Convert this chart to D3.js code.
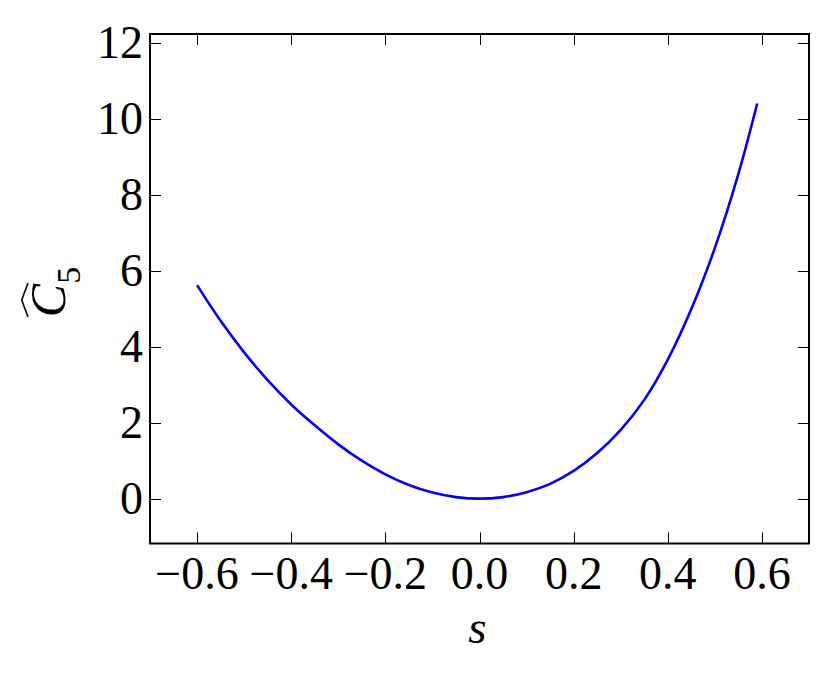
<!DOCTYPE html>
<html>
<head>
<meta charset="utf-8">
<script src="https://cdn.jsdelivr.net/npm/d3@7"></script>
<style>
  body { margin: 0; background: #fff; }
  svg { display: block; }
</style>
</head>
<body>
<div class="vis-chart"></div>
<script>
// values
const sValues = [-0.60, -0.55, -0.50, -0.45, -0.40, -0.35, -0.30, -0.25, -0.20, -0.15, -0.10, -0.05,
  0.00, 0.05, 0.10, 0.15, 0.20, 0.25, 0.30, 0.35, 0.40, 0.45, 0.50, 0.55, 0.59];
const c5Values = [5.62, 4.68, 3.85, 3.12, 2.48, 1.93, 1.43, 1.00, 0.64, 0.36, 0.16, 0.04,
  0.00, 0.04, 0.17, 0.39, 0.73, 1.20, 1.81, 2.60, 3.66, 4.99, 6.60, 8.55, 10.40];
const xTicks = [-0.6, -0.4, -0.2, 0.0, 0.2, 0.4, 0.6];
const yTicks = [0, 2, 4, 6, 8, 10, 12];

const width = 831;
const height = 678;
const margin = { top: 34, right: 22, bottom: 134.5, left: 150 };
const w = width - margin.left - margin.right;
const h = height - margin.top - margin.bottom;
const serif = "'Liberation Serif', 'Times New Roman', Times, serif";

const svg = d3.select(".vis-chart")
  .append("svg")
  .attr("width", width)
  .attr("height", height)
  .attr("font-family", serif);

const g = svg.append("g")
  .attr("transform", `translate(${margin.left},${margin.top})`);

const xScale = d3.scaleLinear().domain([-0.7, 0.7]).range([0, w]);
const yScale = d3.scaleLinear().domain([-1.18, 12.23]).range([h, 0]);

const fmtX = (d) => (d < 0 ? "\u2212" : "") + Math.abs(d).toFixed(1);
const tickLen = 11;
const fontSize = 46;

// ticks, drawn inward on all four sides
const tickG = g.append("g").attr("stroke", "#000").attr("stroke-width", 1);
xTicks.forEach((d) => {
  const x = Math.round(xScale(d)) + 0.5;
  tickG.append("line").attr("x1", x).attr("x2", x).attr("y1", h).attr("y2", h - tickLen);
  tickG.append("line").attr("x1", x).attr("x2", x).attr("y1", 0).attr("y2", tickLen);
});
yTicks.forEach((d) => {
  const y = Math.round(yScale(d)) + 0.5;
  tickG.append("line").attr("x1", 0).attr("x2", tickLen).attr("y1", y).attr("y2", y);
  tickG.append("line").attr("x1", w).attr("x2", w - tickLen).attr("y1", y).attr("y2", y);
});

// tick labels
g.append("g")
  .selectAll("text")
  .data(xTicks)
  .enter()
  .append("text")
  .attr("x", (d) => xScale(d))
  .attr("y", h + 45.5)
  .attr("text-anchor", "middle")
  .attr("font-family", serif)
  .attr("font-size", fontSize)
  .text(fmtX);

g.append("g")
  .selectAll("text")
  .data(yTicks)
  .enter()
  .append("text")
  .attr("x", -7)
  .attr("y", (d) => yScale(d))
  .attr("dy", "0.33em")
  .attr("text-anchor", "end")
  .attr("font-family", serif)
  .attr("font-size", fontSize)
  .text((d) => d);

// curve
const line = d3.line()
  .x((d, i) => xScale(sValues[i]))
  .y((d) => yScale(d))
  .curve(d3.curveCatmullRom);

g.append("path")
  .datum(c5Values)
  .attr("fill", "none")
  .attr("stroke", "#0000ff")
  .attr("stroke-width", 2.6)
  .attr("d", line);

// frame
g.append("rect")
  .attr("x", 0)
  .attr("y", 0)
  .attr("width", w)
  .attr("height", h)
  .attr("fill", "none")
  .attr("stroke", "#000")
  .attr("stroke-width", 2);

// x label
svg.append("text")
  .attr("x", margin.left + xScale(0) - 2)
  .attr("y", 643)
  .attr("text-anchor", "middle")
  .attr("font-family", serif)
  .attr("font-size", 47)
  .attr("font-style", "italic")
  .text("s");

// y label: C hat with subscript 5, rotated
const yl = svg.append("g")
  .attr("transform", "translate(65,292) rotate(-90)");
const yt = yl.append("text")
  .attr("x", 0)
  .attr("y", 0)
  .attr("text-anchor", "middle")
  .attr("font-family", serif)
  .attr("font-size", 50);
yt.append("tspan").attr("font-style", "italic").text("C");
yt.append("tspan").attr("dy", 15).attr("font-size", 34).text("5");
yl.append("path")
  .attr("d", "M-25,-37 L-8,-43.3 L9,-37")
  .attr("fill", "none")
  .attr("stroke", "#000")
  .attr("stroke-width", 1.6);
</script>
</body>
</html>
